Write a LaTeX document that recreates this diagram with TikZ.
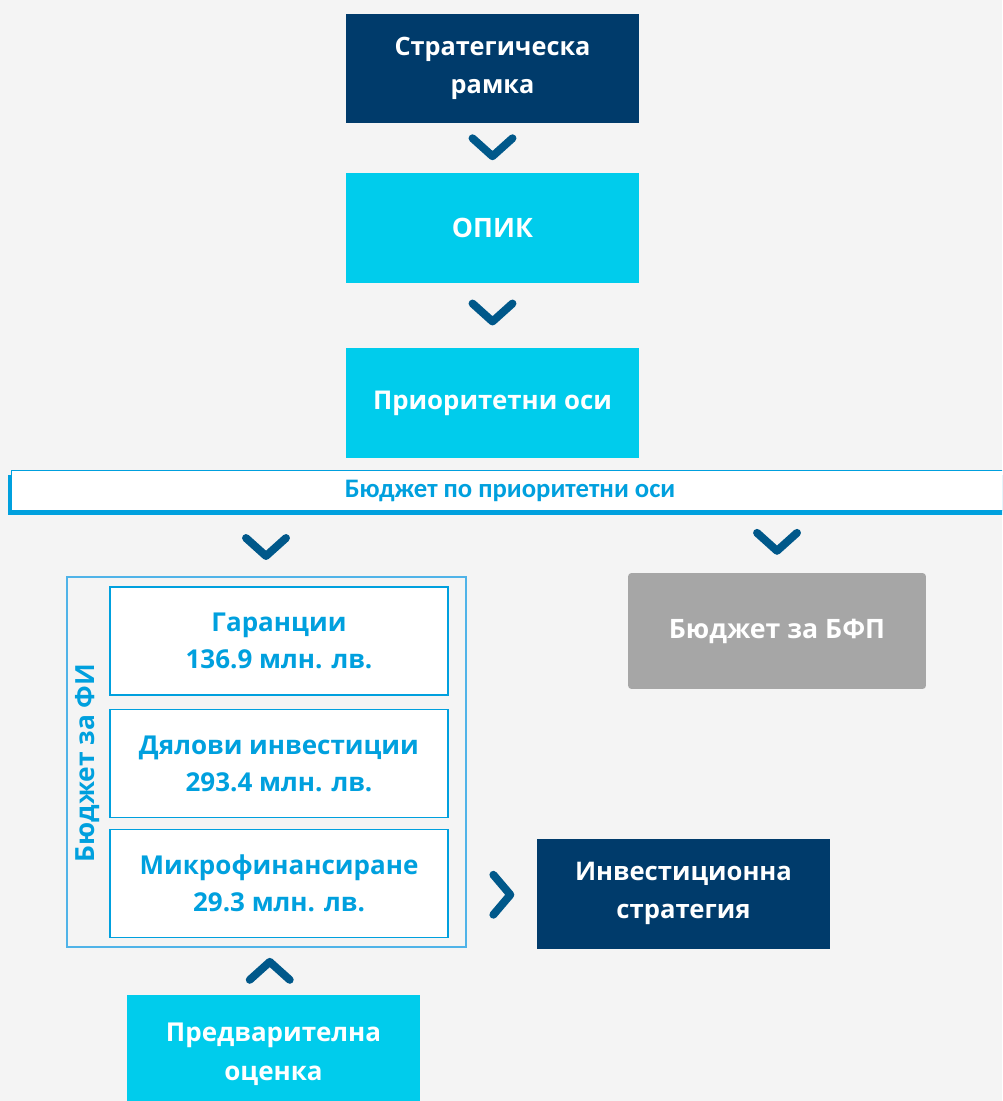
\documentclass[tikz,border=0pt]{standalone}
\usepackage{fontspec}
\setmainfont{Open Sans}
\newfontfamily\narrowfont{Carlito}
\usetikzlibrary{positioning,calc}
\definecolor{navy}{RGB}{0,59,107}
\definecolor{cyanbox}{RGB}{0,204,236}
\definecolor{chevblue}{RGB}{0,88,138}
\definecolor{skyblue}{RGB}{0,160,222}
\definecolor{paleblue}{RGB}{79,179,232}
\definecolor{greybox}{RGB}{166,166,166}
\definecolor{bggrey}{RGB}{244,244,244}

\tikzset{
  bigbox/.style={inner sep=0pt, minimum width=5.86cm, minimum height=2.2cm, align=center,
    text=white, font=\bfseries\fontsize{14.4}{22}\selectfont},
  navybox/.style={bigbox, fill=navy},
  cyanbox/.style={bigbox, fill=cyanbox},
  fibox/.style={inner sep=0pt, minimum width=6.76cm, minimum height=2.16cm, align=center,
    draw=skyblue, line width=0.9pt, fill=white, text=skyblue,
    font=\bfseries\fontsize{14.8}{21}\selectfont},
  chev/.style={draw=chevblue, line width=4.5pt, line cap=round, line join=round}
}

\begin{document}
\begin{tikzpicture}[x=0.02cm, y=-0.02cm]
  % page and background
  \useasboundingbox (0,0) rectangle (1002,1101);
  \clip (0,0) rectangle (1002,1101);
  \fill[bggrey] (0,0) rectangle (1002,1101);

  % top column
  \node[navybox] (strat) at (492.5,68.5) {Стратегическа\\рамка};
  \node[cyanbox, font=\bfseries\fontsize{15.2}{22}\selectfont] (opik) at (492.5,228) {ОПИК};
  \node[cyanbox, font=\bfseries\fontsize{14.7}{22}\selectfont] (prio) at (492.5,403) {Приоритетни оси};
  \draw[chev] ($(strat.south)!.5!(opik.north)$) ++(-20,-10) -- ++(20,18) -- ++(20,-18);
  \draw[chev] ($(opik.south)!.5!(prio.north)$) ++(-20,-12) -- ++(20,18) -- ++(20,-18);

  % budget banner
  \fill[skyblue] (8,475) rectangle (1010,515);
  \node[fill=white, draw=skyblue, line width=0.6pt, inner sep=0pt, minimum width=19.96cm,
    minimum height=0.8cm, text=skyblue, font=\narrowfont\bfseries\fontsize{15.2}{17}\selectfont]
    (budget) at (510,490.5) {Бюджет по приоритетни оси};

  % financial instruments
  \draw[paleblue, line width=0.6pt] (67,577) rectangle (466,947);
  \coordinate (fitop) at (266,577);
  \coordinate (fibot) at (266,947);
  \coordinate (firight) at (466,892);
  \node[fibox] (guar) at (279,641) {Гаранции\\136.9 млн. лв.};
  \node[fibox] (equity) at (279,763.5) {Дялови инвестиции\\293.4 млн. лв.};
  \node[fibox] (micro) at (279,883.5) {Микрофинансиране\\29.3 млн. лв.};
  \node[rotate=90, text=skyblue, font=\bfseries\fontsize{15}{17}\selectfont]
    (fibudget) at (88,763) {Бюджет за ФИ};

  % grant budget
  \node[fill=greybox, rounded corners=2pt, inner sep=0pt, minimum width=5.96cm,
    minimum height=2.32cm, text=white, font=\bfseries\fontsize{15.2}{20}\selectfont]
    (grants) at (777,631) {Бюджет за БФП};

  \draw[chev] ($(budget.south-|fitop)!.5!(fitop)$) ++(-20,-6) -- ++(20,18) -- ++(20,-18);
  \draw[chev] ($(budget.south-|grants.north)!.5!(grants.north)$) ++(-20,-9) -- ++(20,18) -- ++(20,-18);

  % investment strategy and ex-ante
  \node[navybox, font=\bfseries\fontsize{14.6}{22}\selectfont] (invest) at (683.5,893.5) {Инвестиционна\\стратегия};
  \node[cyanbox, minimum height=2.36cm, font=\bfseries\fontsize{14.8}{22}\selectfont]
    (exante) at (273.5,1054) {Предварителна\\оценка};
  \draw[chev] ($(firight)!.5!(invest.west)$) ++(-8,-18) -- ++(17,20) -- ++(-17,20);
  \draw[chev] ($(fibot)!.5!(exante.north)$) ++(-20,9) -- ++(20,-18) -- ++(20,18);
\end{tikzpicture}
\end{document}
